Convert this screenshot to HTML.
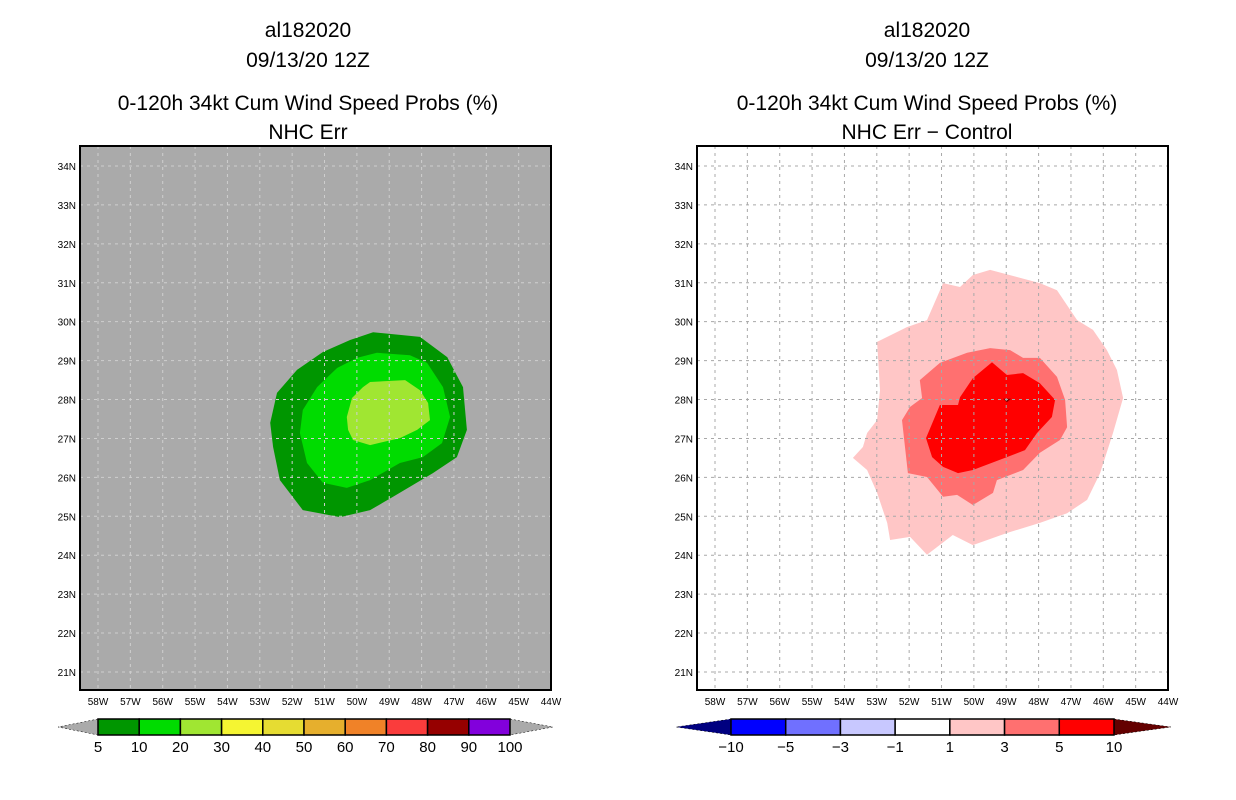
<!DOCTYPE html>
<html><head><meta charset="utf-8"><style>
body{margin:0;background:#fff}
svg{display:block;font-family:"Liberation Sans",sans-serif}
</style></head><body>
<svg id="c" width="1236" height="800" viewBox="0 0 1236 800">
<g font-size="21" text-anchor="middle" fill="#000">
<text x="308" y="37">al182020</text>
<text x="308" y="67">09/13/20 12Z</text>
<text x="308" y="110">0-120h 34kt Cum Wind Speed Probs (%)</text>
<text x="308" y="139">NHC Err</text>
</g>
<g font-size="21" text-anchor="middle" fill="#000">
<text x="927" y="37">al182020</text>
<text x="927" y="67">09/13/20 12Z</text>
<text x="927" y="110">0-120h 34kt Cum Wind Speed Probs (%)</text>
<text x="927" y="139">NHC Err − Control</text>
</g>
<g id="L"></g>
<g id="R"></g>
<g id="CB"></g>
</svg>
<script>
const lonTicks=[58,57,56,55,54,53,52,51,50,49,48,47,46,45,44];
const latTicks=[34,33,32,31,30,29,28,27,26,25,24,23,22,21];
const probOuter=[[49.5,29.73],[48.05,29.61],[47.21,29.09],[46.72,28.32],[46.6,27.22],[46.91,26.52],[47.65,26.11],[48.88,25.5],[49.59,25.16],[50.52,24.98],[51.67,25.16],[52.38,25.93],[52.59,26.78],[52.68,27.4],[52.47,28.17],[51.85,28.76],[51.05,29.22],[50.21,29.53]];
const probMid=[[49.38,29.2],[48.36,29.14],[47.83,28.94],[47.34,28.32],[47.12,27.55],[47.37,26.88],[47.96,26.52],[48.67,26.37],[49.59,25.93],[50.31,25.73],[51.05,25.86],[51.54,26.37],[51.76,27.14],[51.67,27.73],[51.23,28.32],[50.61,28.81],[50.0,29.07]];
const probInner=[[49.59,28.45],[48.51,28.5],[48.05,28.24],[47.8,27.91],[47.74,27.47],[48.14,27.22],[48.67,27.01],[49.59,26.83],[50.12,26.96],[50.27,27.22],[50.31,27.55],[50.15,28.04],[49.81,28.32]];
const diff1=[[49.5,31.33],[47.96,30.99],[47.43,30.81],[46.81,30.04],[46.32,29.79],[45.89,29.27],[45.58,28.76],[45.39,28.04],[45.7,27.14],[46.1,26.11],[46.5,25.42],[47.12,25.08],[47.96,24.83],[48.98,24.57],[50.03,24.26],[50.65,24.52],[51.45,24.01],[51.97,24.47],[52.59,24.39],[52.68,24.83],[52.99,25.6],[53.3,26.19],[53.74,26.5],[53.43,26.78],[53.3,27.14],[52.99,27.47],[52.9,28.24],[52.99,29.48],[52.07,29.86],[51.45,30.04],[50.95,30.99],[50.43,30.89],[50.03,31.2]];
const diff3=[[49.5,29.32],[48.88,29.27],[48.48,29.07],[47.96,29.07],[47.43,28.58],[47.18,27.99],[47.12,27.29],[47.34,26.96],[47.96,26.63],[48.48,26.19],[49.29,25.93],[49.41,25.6],[50.03,25.29],[50.52,25.55],[50.95,25.5],[51.45,26.01],[52.04,26.11],[52.22,27.47],[51.97,27.81],[51.6,28.04],[51.67,28.5],[51.05,28.94],[50.21,29.2]];
const diff5=[[49.44,28.96],[48.98,28.63],[48.48,28.68],[47.96,28.42],[47.49,27.99],[47.59,27.55],[48.05,27.14],[48.42,26.7],[48.98,26.52],[50.03,26.19],[50.49,26.11],[50.95,26.27],[51.29,26.52],[51.48,27.01],[51.05,27.86],[50.49,27.86],[50.43,28.06],[50.03,28.55]];
const diff10=[[49.1,28.02],[48.85,28.02],[48.98,27.93]];
const probLevels=["5","10","20","30","40","50","60","70","80","90","100"];
const probColors=["#009600","#00dc00","#a0e632","#f5f532","#e6dc32","#e6af2d","#f08228","#fa3c3c","#960000","#8200dc"];
const diffLevels=["−10","−5","−3","−1","1","3","5","10"];
const diffColors=["#0000ff","#7070ff","#c8c8ff","#ffffff","#ffc6c6","#ff7070","#ff0000"];

const NS="http://www.w3.org/2000/svg";
function mk(t,p,a){const e=document.createElementNS(NS,t);for(const k in a)e.setAttribute(k,a[k]);p.appendChild(e);return e;}
const PX=32.36, PY=38.92, TOP=146, BOT=690;
function xS(x0,lon){return x0+(58-lon)*PX;}
function yS(lat){return 166+(34-lat)*PY;}
function poly(g,x0,pts,fill,name){
  const p=mk('polygon',g,{points:pts.map(q=>xS(x0,q[0]).toFixed(1)+','+yS(q[1]).toFixed(1)).join(' '),fill:fill});
  
  
}
function panel(g,x0,left,bg,grid,layers){
  const r=mk('rect',g,{x:left,y:TOP,width:471,height:BOT-TOP,fill:bg});
  
  
  layers.forEach(l=>poly(g,x0,l[0],l[1],l[2]));
  lonTicks.forEach(lon=>{const x=xS(x0,lon);
    const l=mk('line',g,{x1:x,x2:x,y1:TOP,y2:BOT,stroke:grid,'stroke-width':1,'stroke-dasharray':'3 4'});
    
    
    const t=mk('text',g,{x:x,y:705,'font-size':10,'text-anchor':'middle'});t.textContent=lon+'W';
    
    
  });
  latTicks.forEach(lat=>{const y=yS(lat);
    const l=mk('line',g,{x1:left,x2:left+471,y1:y,y2:y,stroke:grid,'stroke-width':1,'stroke-dasharray':'3 4'});
    
    
    const t=mk('text',g,{x:left-4,y:y+4,'font-size':10,'text-anchor':'end'});t.textContent=lat+'N';
    
    
  });
  const f=mk('rect',g,{x:left,y:TOP,width:471,height:BOT-TOP,fill:'none',stroke:'#000','stroke-width':2});
  
  
}
panel(document.getElementById('L'),98,80,'#aaaaaa','#cfcfcf',[[probOuter,probColors[0],'prob-5-10'],[probMid,probColors[1],'prob-10-20'],[probInner,probColors[2],'prob-20-30']]);
panel(document.getElementById('R'),715,697,'#ffffff','#a8a8a8',[[diff1,diffColors[4],'diff-1-3'],[diff3,diffColors[5],'diff-3-5'],[diff5,diffColors[6],'diff-5-10'],[diff10,'#800000','diff-gt-10']]);

function colorbar(g,x1,x2,tipL,tipR,cols,labs,cL,cR,name){
  const w=(x2-x1)/cols.length, y=719, h=16;
  const a=mk('polygon',g,{points:`${x1},${y} ${tipL},${y+h/2} ${x1},${y+h}`,fill:cL,stroke:'#000','stroke-width':0.5,'stroke-dasharray':'2 2'});
  
  
  const b=mk('polygon',g,{points:`${x2},${y} ${tipR},${y+h/2} ${x2},${y+h}`,fill:cR,stroke:'#000','stroke-width':0.5,'stroke-dasharray':'2 2'});
  
  
  cols.forEach((c,i)=>{
    const r=mk('rect',g,{x:x1+i*w,y:y,width:w,height:h,fill:c,stroke:'#000','stroke-width':1.5});
    
    
  });
  labs.forEach((s,i)=>{
    const t=mk('text',g,{x:x1+i*w,y:752,'font-size':15,'text-anchor':'middle'});t.textContent=s;
    
    
  });
}
const CB=document.getElementById('CB');
colorbar(CB,98,510,58,553,probColors,probLevels,'#aaaaaa','#aaaaaa','prob-colorbar');
colorbar(CB,731,1114,676,1171,diffColors,diffLevels,'#000080','#640000','diff-colorbar');
</script>
</body></html>
